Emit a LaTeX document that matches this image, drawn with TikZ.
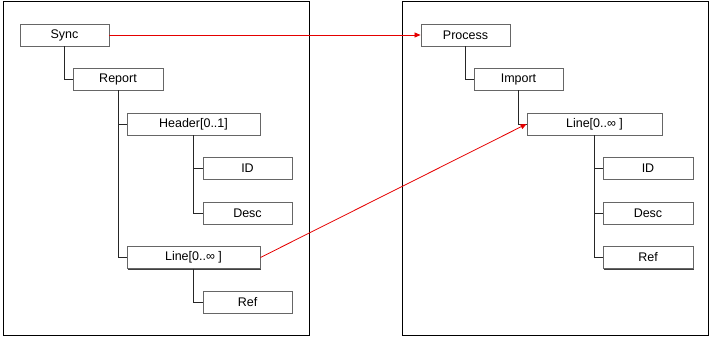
\documentclass[tikz,border=0pt]{standalone}
\usepackage{fontspec}
\setmainfont{Liberation Sans}
\usetikzlibrary{shadows,arrows.meta}
\begin{document}
\begin{tikzpicture}[x=1pt,y=-1pt,
  elbox/.style={draw=black!60, line width=0.9pt, fill=white, inner sep=0pt,
    minimum height=22pt, font=\fontsize{12.5}{14}\selectfont,
    drop shadow={shadow xshift=1pt, shadow yshift=-1pt, opacity=1, fill=black!75}},
  frame/.style={draw=black, line width=0.9pt},
  tree/.style={draw=black!85, line width=0.8pt},
  map/.style={draw=red!90!black, line width=0.8pt, -{Triangle[length=6pt,width=5pt]}}]
\useasboundingbox (0,0) rectangle (711,337);
\draw[frame] (3,1) rectangle (309,335);
\draw[frame] (402,1) rectangle (708,335);
% left tree
\node[elbox, minimum width=89pt] (sync) at (64.5,35) {Sync};
\node[elbox, minimum width=90pt] (report) at (118,79) {Report};
\node[elbox, minimum width=133pt] (header) at (193.5,124) {Header[0..1]};
\node[elbox, minimum width=89pt] (id1) at (247.5,168) {ID};
\node[elbox, minimum width=89pt] (desc1) at (247.5,213) {Desc};
\node[elbox, minimum width=133pt] (line1) at (193.5,257.5) {Line[0..∞ ]};
\node[elbox, minimum width=89pt] (ref1) at (247.5,302) {Ref};
% right tree
\node[elbox, minimum width=89pt] (process) at (465.5,35) {Process};
\node[elbox, minimum width=89pt] (import) at (518.5,79) {Import};
\node[elbox, minimum width=135pt] (line2) at (594.5,124) {Line[0..∞ ]};
\node[elbox, minimum width=90pt] (id2) at (648,168) {ID};
\node[elbox, minimum width=90pt] (desc2) at (648,213) {Desc};
\node[elbox, minimum width=90pt] (ref2) at (648,257.5) {Ref};
% tree connectors
\begin{scope}[on background layer/.style={}]
\draw[tree] (sync.south) |- (report.west);
\draw[tree] (report.south) |- (header.west);
\draw[tree] (report.south) |- (line1.west);
\draw[tree] (header.south) |- (id1.west);
\draw[tree] (header.south) |- (desc1.west);
\draw[tree] (line1.south) |- (ref1.west);
\draw[tree] (process.south) |- (import.west);
\draw[tree] (import.south) |- (line2.west);
\draw[tree] (line2.south) |- (id2.west);
\draw[tree] (line2.south) |- (desc2.west);
\draw[tree] (line2.south) |- (ref2.west);
\end{scope}
% mapping arrows
\draw[map] (sync.east) -- (process.west);
\draw[map] (line1.east) -- (line2.west);
\end{tikzpicture}
\end{document}
